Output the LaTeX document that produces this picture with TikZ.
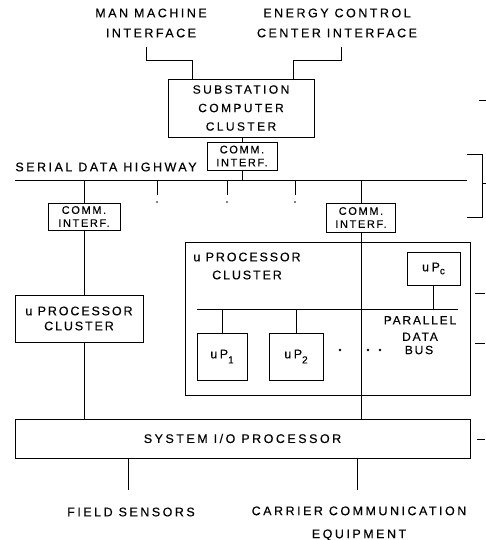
\documentclass[tikz,border=0pt]{standalone}
\usepackage{fontspec}
\newfontfamily\lbl[LetterSpace=20,FakeBold=0.3]{Liberation Sans}
\newfontfamily\lbln[LetterSpace=15,FakeBold=0.3]{Liberation Sans}
\begin{document}
\begin{tikzpicture}[x=1pt,y=-1pt,line width=0.8pt,
  box/.style={draw,inner sep=0pt,align=center},
  tx/.style={inner sep=0pt,align=center,font=\lbl\fontsize{12.5}{15}\selectfont}]
\useasboundingbox (0,0) rectangle (486,540);
% top labels
\node[tx,font=\lbl\fontsize{12.5}{20}\selectfont] (mmi) at (151,23) {MAN MACHINE\\INTERFACE};
\node[tx,font=\lbl\fontsize{12.5}{20}\selectfont] (ecc) at (337,23) {ENERGY CONTROL\\CENTER INTERFACE};
% substation
\node[box,tx,font=\lbl\fontsize{12}{18.5}\selectfont,minimum width=146pt,minimum height=58pt] (sub) at (241,108) {SUBSTATION\\COMPUTER\\CLUSTER};
\coordinate (m1) at (146,47); \coordinate (m2) at (192,60);
\coordinate (e1) at (341,47); \coordinate (e2) at (293,60);
\draw (m1) |- (m2) -- (m2 |- sub.north);
\draw (e1) |- (e2) -- (e2 |- sub.north);
% top comm interface
\node[box,tx,font=\lbln\fontsize{11}{13}\selectfont,minimum width=70pt,minimum height=28pt] (ci0) at (242,156) {COMM.\\INTERF.};
\draw (sub.south -| ci0.north) -- (ci0.north);
% highway
\coordinate (hwL) at (15,180); \coordinate (hwR) at (467,180);
\draw (hwL) -- (hwR);
\draw (ci0.south) -- (ci0.south |- hwL);
\node[tx,anchor=west] (sdh) at (15,167) {SERIAL DATA HIGHWAY};
\foreach \x in {157,227,295}{
  \draw (\x,180) -- (\x,195);
  \fill (\x,202) circle (0.8);
}
% bracket and margin ticks
\draw (467,154) -| (482,217) -- (467,217);
\draw (483,183) -- (486,183);
\draw (479,100) -- (486,100);
\draw (475,293) -- (485,293);
\draw (475,343) -- (485,343);
\draw (477,439) -- (485,439);
% left branch
\node[box,tx,font=\lbln\fontsize{11}{13}\selectfont,minimum width=72pt,minimum height=27pt] (ciL) at (84,216.5) {COMM.\\INTERF.};
\node[box,tx,font=\lbln\fontsize{12.5}{15}\selectfont,minimum width=128pt,minimum height=47pt] (upL) at (79,318.5) {u PROCESSOR\\CLUSTER};
\node[box,tx,minimum width=455pt,minimum height=39pt] (sys) at (242.5,438.5) {SYSTEM I/O PROCESSOR};
\draw (ciL.north |- hwL) -- (ciL.north);
\draw (ciL.south) -- (ciL.south |- upL.north);
\draw (ciL.south |- upL.south) -- (ciL.south |- sys.north);
% right branch
\node[box,tx,font=\lbln\fontsize{11}{13}\selectfont,minimum width=69pt,minimum height=29pt] (ciR) at (361,217.5) {COMM.\\INTERF.};
\node[draw,inner sep=0pt,minimum width=285pt,minimum height=153pt] (big) at (327.5,318.5) {};
\draw (ciR.north |- hwL) -- (ciR.north);
\draw (ciR.south) -- (ciR.south |- sys.north);
\node[tx,font=\lbln\fontsize{12.5}{18}\selectfont] (bigt) at (247,266) {u PROCESSOR\\CLUSTER};
\node[box,tx,minimum width=53pt,minimum height=33pt] (upc) at (433.5,268.5) {uP\raisebox{-3pt}{\lbl\fontsize{10}{10}\selectfont c}};
\coordinate (busL) at (197,309); \coordinate (busR) at (458,309);
\draw (busL) -- (busR);
\draw (upc.south) -- (upc.south |- busR);
\node[box,tx,minimum width=50pt,minimum height=47pt] (up1) at (222,356.5) {uP\raisebox{-5pt}{\lbl\fontsize{10}{10}\selectfont 1}};
\node[box,tx,minimum width=54pt,minimum height=47pt] (up2) at (296,356.5) {uP\raisebox{-5pt}{\lbl\fontsize{10}{10}\selectfont 2}};
\draw (up1.north |- busL) -- (up1.north);
\draw (up2.north |- busL) -- (up2.north);
\fill (340,350) circle (1.3);
\fill (368,350) circle (1.3);
\fill (380,350) circle (1.3);
\node[tx,font=\lbln\fontsize{12}{16.5}\selectfont] (pdb) at (420,328.5) {PARALLEL\\DATA};
\node[tx,font=\lbln\fontsize{12}{15}\selectfont] (bus) at (419,350) {BUS};
% bottom
\coordinate (fs) at (128,490); \coordinate (cc) at (357,490);
\draw (sys.south -| fs) -- (fs);
\draw (sys.south -| cc) -- (cc);
\node[tx] (fst) at (131,512) {FIELD SENSORS};
\node[tx,font=\lbl\fontsize{12.5}{23}\selectfont] (cct) at (359,523.5) {CARRIER COMMUNICATION\\EQUIPMENT};
\end{tikzpicture}
\end{document}
